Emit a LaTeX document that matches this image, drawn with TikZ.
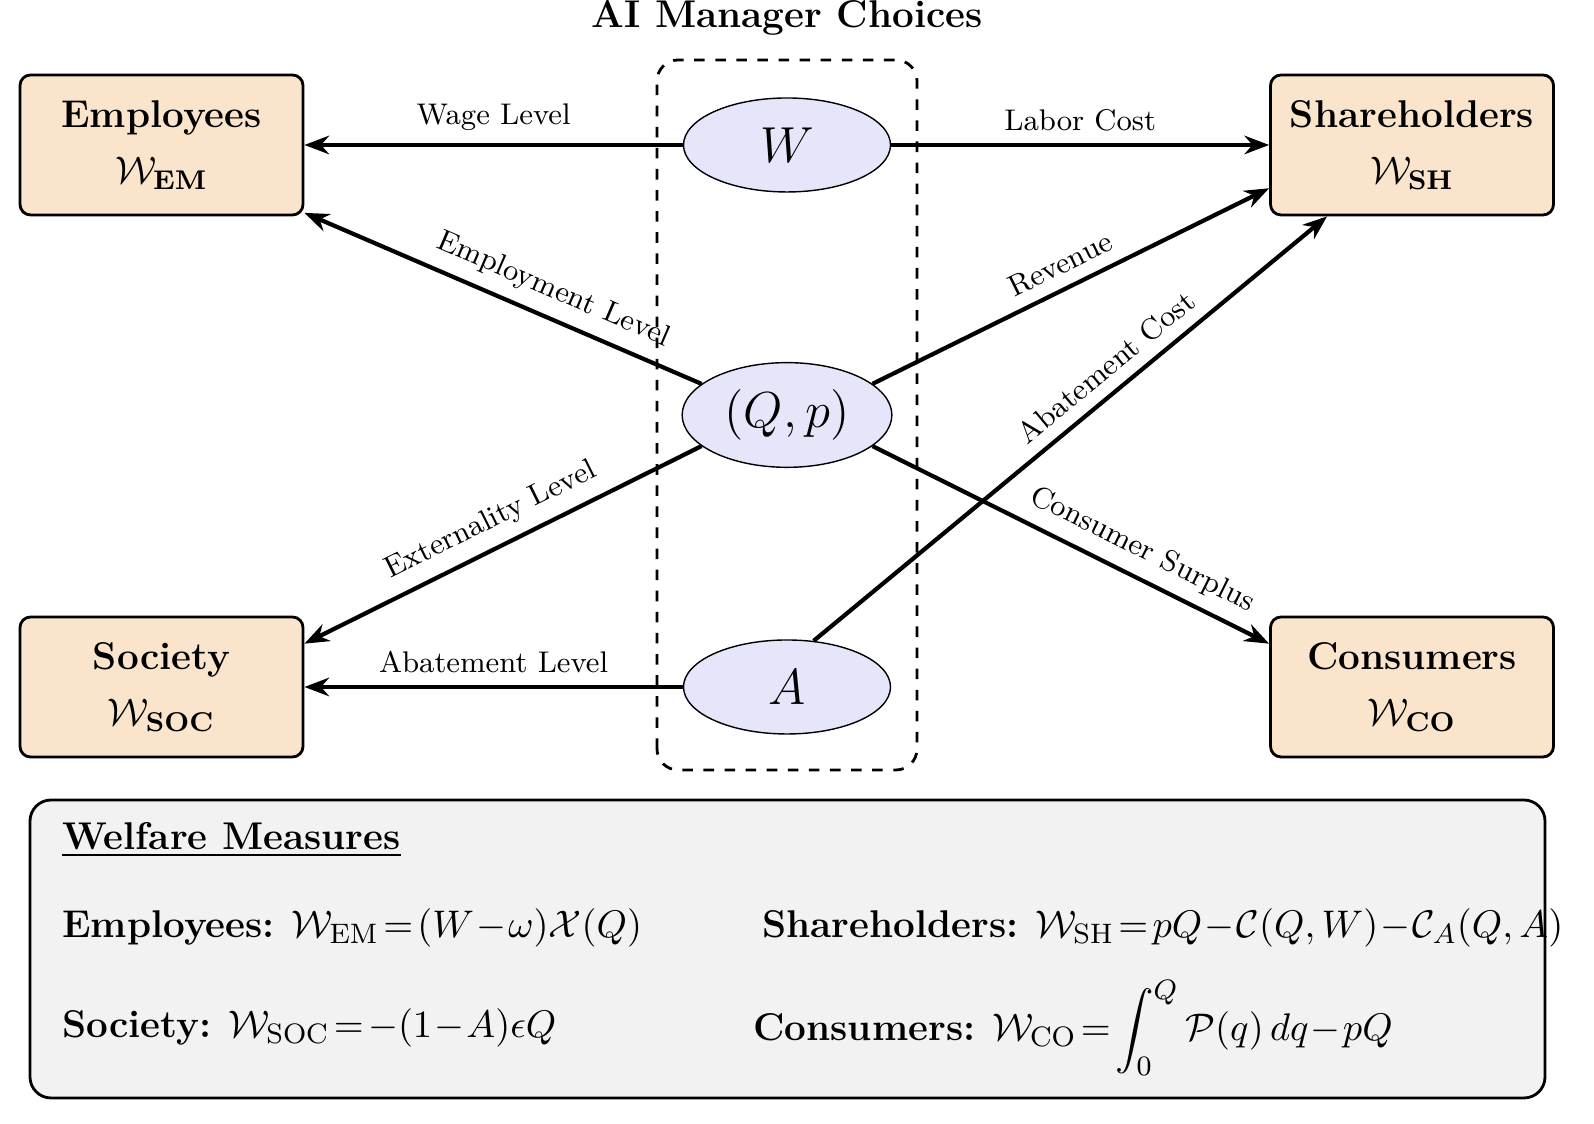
\documentclass[tikz,border=0pt]{standalone}
\usepackage{amsmath}
\usepackage{tikz}
\usetikzlibrary{positioning,shapes.geometric,arrows.meta}
\definecolor{boxfill}{RGB}{250,229,204}
\definecolor{ellfill}{RGB}{230,230,250}
\newcommand{\midfont}{\fontsize{11}{13}\selectfont}
\newcommand{\tightmath}{\medmuskip=1mu\thickmuskip=2mu}
\begin{document}
\begin{tikzpicture}[%
	agent/.style = {shape=rectangle, rounded corners=3pt, draw, thick, fill=boxfill, align=center, minimum width=2.83cm, minimum height=1.4cm, font=\midfont},
	choice/.style = {shape=ellipse, draw, fill=ellfill, minimum width=2.07cm, minimum height=0.94cm, font=\Large},
	link/.style = {-{Stealth[length=7pt]}, line width=1.2pt},
	lab/.style = {font=\fontsize{8.5}{10}\selectfont, sloped, above},
	eq/.style = {anchor=west, font=\midfont\tightmath}
	]
  \useasboundingbox (0,0) rectangle (15.94,11.24);
  % manager choices
  \draw [dashed, thick, rounded corners=6pt] (6.57,3.54) rectangle (9.17,10.64);
  \node [font=\bfseries\midfont] (title) at (7.87,11.06) {AI Manager Choices};
  \node [choice] (w) at (7.87,9.79) {$W$};
  \node [choice, minimum height=0.84cm] (qp) at (7.87,7.09) {$(Q,p)$};
  \node [choice] (a) at (7.87,4.37) {$A$};
  % stakeholders
  \node [agent] (em) at (1.615,9.79) {\bfseries Employees\\[3pt] $\mathcal{W}_{\textbf{EM}}$};
  \node [agent] (sh) at (14.12,9.79) {\bfseries Shareholders\\[3pt] $\mathcal{W}_{\textbf{SH}}$};
  \node [agent] (soc) at (1.615,4.37) {\bfseries Society\\[3pt] $\mathcal{W}_{\textbf{SOC}}$};
  \node [agent] (co) at (14.12,4.37) {\bfseries Consumers\\[3pt] $\mathcal{W}_{\textbf{CO}}$};
  % arrows
  \draw [link] (w.west) -- node [lab] {Wage Level} (em.east);
  \draw [link] (w.east) -- node [lab] {Labor Cost} (sh.west);
  \draw [link] (qp.160) -- node [lab, pos=0.4] {Employment Level} ([yshift=1pt]em.south east);
  \draw [link] (qp.20) -- node [lab, pos=0.5] {Revenue} ([yshift=8pt]sh.south west);
  \draw [link] (qp.200) -- node [lab, pos=0.5] {Externality Level} ([yshift=-8pt]soc.north east);
  \draw [link] (qp.340) -- node [lab, pos=0.65] {Consumer Surplus} ([yshift=-8pt]co.north west);
  \draw [link] (a.60) -- node [lab, pos=0.6] {Abatement Cost} ([xshift=0.58cm]sh.south west);
  \draw [link] (a.west) -- node [lab] {Abatement Level} (soc.east);
  % welfare measures
  \draw [thick, rounded corners=6pt, fill=gray!10] (0.30,0.26) rectangle (15.45,3.24);
  \node [eq] (wm) at (0.5,2.84) {\textbf{\underline{Welfare Measures}}};
  \node [eq] (eqem) at (0.5,1.96) {\textbf{Employees:} $\mathcal{W}_{\mathrm{EM}} = (W-\omega)\mathcal{X}(Q)$};
  \node [eq] (eqsh) at (7.5,1.96) {\textbf{Shareholders:} $\mathcal{W}_{\mathrm{SH}} = pQ-\mathcal{C}(Q,W)-\mathcal{C}_A(Q,A)$};
  \node [eq] (eqsoc) at (0.5,0.96) {\textbf{Society:} $\mathcal{W}_{\mathrm{SOC}} = -(1-A)\epsilon Q$};
  \node [eq] (eqco) at (7.41,0.96) {\textbf{Consumers:} $\mathcal{W}_{\mathrm{CO}} = \displaystyle\int_0^Q \mathcal{P}(q)\,dq - pQ$};
\end{tikzpicture}
\end{document}
